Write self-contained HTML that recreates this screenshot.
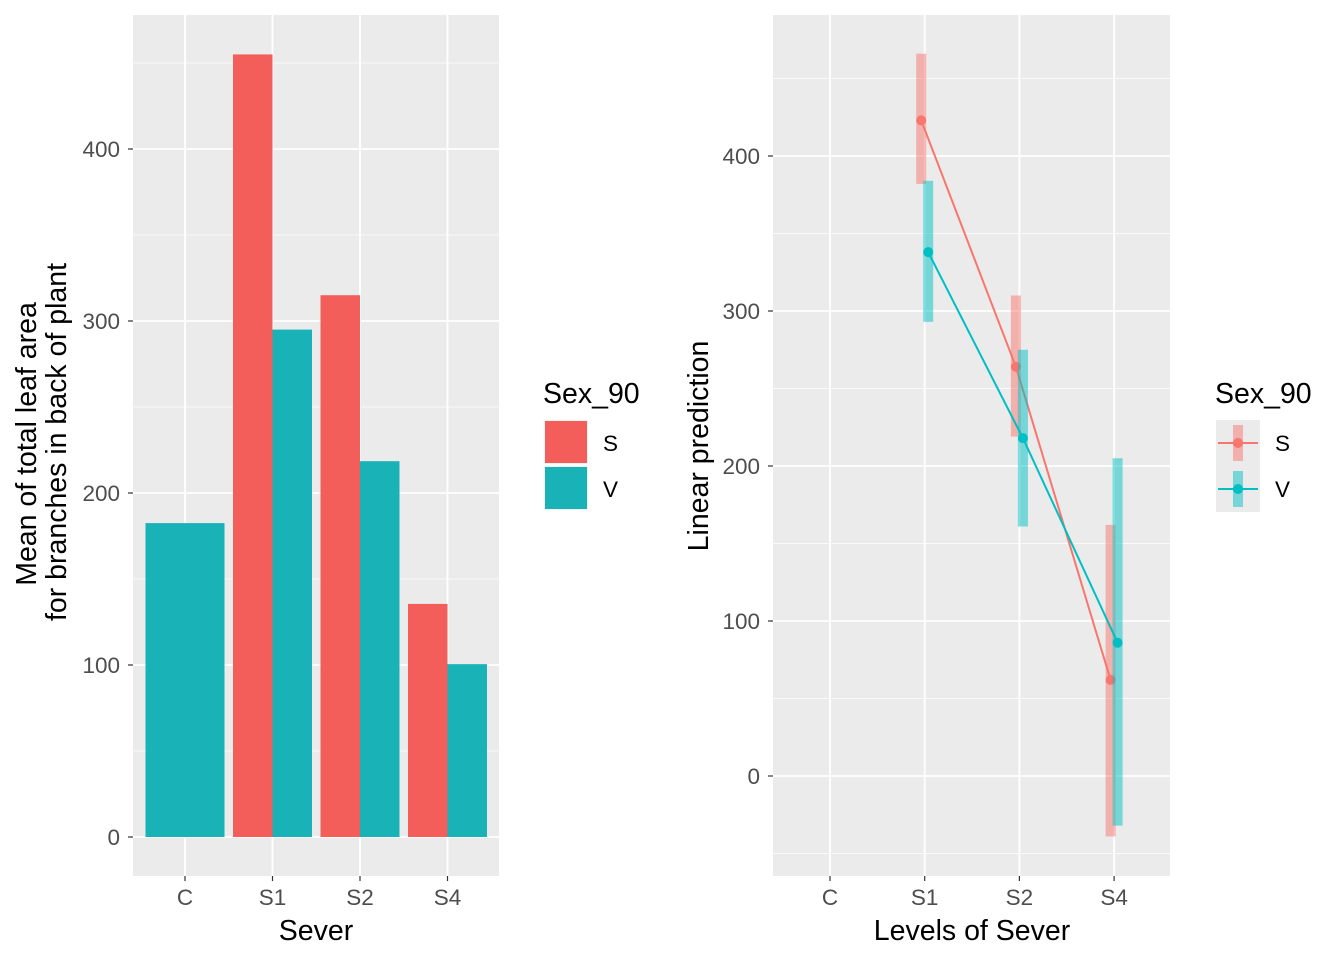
<!DOCTYPE html>
<html><head><meta charset="utf-8"><style>
body{margin:0;background:#fff;}
svg text{font-family:"Liberation Sans",Arial,sans-serif;}
</style></head><body>
<svg id="c" width="1344" height="960" xmlns="http://www.w3.org/2000/svg"></svg>
<script>
const categories=["C","S1","S2","S4"];
const barS=[null,455,315,135.5];
const barV=[182.5,295,218.5,100.5];
const leftTicks=[0,100,200,300,400];
const predS=[null,423,264,62];
const predV=[null,338,218,86];
const lowS=[null,382,219,-39];
const highS=[null,466,310,162];
const lowV=[null,293,161,-32];
const highV=[null,384,275,205];
const rightTicks=[0,100,200,300,400];
const legendLabels=["S","V"];
const RED="#F8766D",TEAL="#00BFC4",BR="#F35E5A",BT="#19B3B7";
const svg=document.getElementById('c');
const NS="http://www.w3.org/2000/svg";
function el(t,a,p){const e=document.createElementNS(NS,t);for(const k in a)e.setAttribute(k,a[k]);(p||svg).appendChild(e);return e;}
function txt(s,a,p){const e=el('text',a,p);e.textContent=s;return e;}
const TS=22.5, AS=28.5;

// LEFT PANEL
const L={x0:133,x1:499,y0:15,y1:876};
const ly=v=>837-v*1.72;
const lx=i=>185+i*87.5;
let g=el('g',{});
el('rect',{x:L.x0,y:L.y0,width:L.x1-L.x0,height:L.y1-L.y0,fill:'#EBEBEB'},g);
for(let v=-50;v<=450;v+=100){const y=ly(v);if(y>L.y0&&y<L.y1)el('line',{x1:L.x0,x2:L.x1,y1:y,y2:y,stroke:'#fff','stroke-width':0.8},g);}
leftTicks.forEach(v=>{const y=ly(v);el('line',{x1:L.x0,x2:L.x1,y1:y,y2:y,stroke:'#fff','stroke-width':1.8},g);
 el('line',{x1:L.x0-5,x2:L.x0,y1:y,y2:y,stroke:'#333','stroke-width':1.2},g);
 const t=txt(v,{x:L.x0-13,y:y+8,'text-anchor':'end','font-size':TS,fill:'#4D4D4D'},g);});
categories.forEach((c,i)=>{const x=lx(i);el('line',{x1:x,x2:x,y1:L.y0,y2:L.y1,stroke:'#fff','stroke-width':1.8},g);
 el('line',{x1:x,x2:x,y1:L.y1,y2:L.y1+5,stroke:'#333','stroke-width':1.2},g);
 const t=txt(c,{x:x,y:905,'text-anchor':'middle','font-size':TS,fill:'#4D4D4D'},g);});
const bw=39.5;
categories.forEach((c,i)=>{const x=lx(i);
 if(barS[i]==null){const r=el('rect',{x:x-bw,y:ly(barV[i]),width:2*bw,height:ly(0)-ly(barV[i]),fill:BT},g);}
 else{const r=el('rect',{x:x-bw,y:ly(barS[i]),width:bw,height:ly(0)-ly(barS[i]),fill:BR},g);
  const r2=el('rect',{x:x,y:ly(barV[i]),width:bw,height:ly(0)-ly(barV[i]),fill:BT},g);}});
let t=txt('Sever',{x:316,y:940,'text-anchor':'middle','font-size':AS,fill:'#000'});
t=txt('Mean of total leaf area',{x:0,y:0,'text-anchor':'middle','font-size':AS,transform:'translate(36,444) rotate(-90)'});
t=txt('for branches in back of plant',{x:0,y:0,'text-anchor':'middle','font-size':AS,transform:'translate(66,442) rotate(-90)'});
// left legend
t=txt('Sex_90',{x:543,y:403,'font-size':AS});
[BR,BT].forEach((c,i)=>{const y=420+i*46;el('rect',{x:544,y:y,width:44,height:44,fill:'#F2F2F2'});
 const r=el('rect',{x:545,y:y+1,width:42,height:42,fill:c});
 const tt=txt(legendLabels[i],{x:603,y:y+31,'font-size':TS});});

// RIGHT PANEL
const R={x0:773,x1:1170,y0:15,y1:876};
const ry=v=>776-v*1.55;
const rx=i=>830+i*94.7;
g=el('g',{});
el('rect',{x:R.x0,y:R.y0,width:R.x1-R.x0,height:R.y1-R.y0,fill:'#EBEBEB'},g);
for(let v=-50;v<=450;v+=100){const y=ry(v);el('line',{x1:R.x0,x2:R.x1,y1:y,y2:y,stroke:'#fff','stroke-width':0.8},g);}
rightTicks.forEach(v=>{const y=ry(v);el('line',{x1:R.x0,x2:R.x1,y1:y,y2:y,stroke:'#fff','stroke-width':1.8},g);
 el('line',{x1:R.x0-5,x2:R.x0,y1:y,y2:y,stroke:'#333','stroke-width':1.2},g);
 const t=txt(v,{x:R.x0-13,y:y+8,'text-anchor':'end','font-size':TS,fill:'#4D4D4D'},g);});
categories.forEach((c,i)=>{const x=rx(i);el('line',{x1:x,x2:x,y1:R.y0,y2:R.y1,stroke:'#fff','stroke-width':1.8},g);
 el('line',{x1:x,x2:x,y1:R.y1,y2:R.y1+5,stroke:'#333','stroke-width':1.2},g);
 const t=txt(c,{x:x,y:905,'text-anchor':'middle','font-size':TS,fill:'#4D4D4D'},g);});
function series(pred,lo,hi,col,off,name){
 categories.forEach((c,i)=>{if(pred[i]==null)return;const x=rx(i)+off;
  const r=el('rect',{x:x-5,y:ry(hi[i]),width:10,height:ry(lo[i])-ry(hi[i]),fill:col,opacity:0.5},g);});
 let pts=[];categories.forEach((c,i)=>{if(pred[i]!=null)pts.push((rx(i)+off)+','+ry(pred[i]));});
 const pl=el('polyline',{points:pts.join(' '),fill:'none',stroke:col,'stroke-width':2},g);
 categories.forEach((c,i)=>{if(pred[i]==null)return;const p=el('circle',{cx:rx(i)+off,cy:ry(pred[i]),r:5,fill:col},g);});
}
series(predS,lowS,highS,RED,-3.5,'s');
series(predV,lowV,highV,TEAL,3.5,'v');
t=txt('Levels of Sever',{x:972,y:940,'text-anchor':'middle','font-size':AS});
t=txt('Linear prediction',{x:0,y:0,'text-anchor':'middle','font-size':AS,transform:'translate(708,446) rotate(-90)'});
t=txt('Sex_90',{x:1215,y:403,'font-size':AS});
[RED,TEAL].forEach((c,i)=>{const y=420+i*46;el('rect',{x:1216,y:y,width:44,height:46,fill:'#EBEBEB'});
 el('rect',{x:1233,y:y+5,width:10,height:36,fill:c,opacity:0.5});
 el('line',{x1:1218,x2:1258,y1:y+23,y2:y+23,stroke:c,'stroke-width':2});
 const p=el('circle',{cx:1238,cy:y+23,r:5,fill:c});
 const tt=txt(legendLabels[i],{x:1275,y:y+31,'font-size':TS});});
</script>
</body></html>
